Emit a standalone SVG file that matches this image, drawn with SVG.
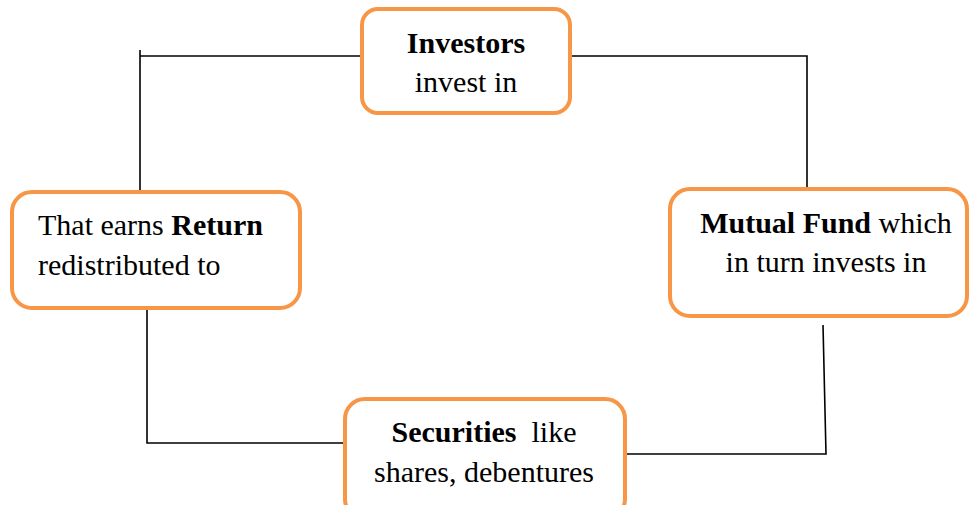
<svg xmlns="http://www.w3.org/2000/svg" width="970" height="505" viewBox="0 0 970 505">
  <style>
    .box { fill: #ffffff; stroke: #F79646; stroke-width: 4; }
    .link { fill: none; stroke: #000000; stroke-width: 1.6; }
    text { font-family: "Liberation Serif", "Times New Roman", serif; font-size: 30px; fill: #000000; white-space: pre; }
    .b { font-weight: bold; }
  </style>
  <rect width="970" height="505" fill="#ffffff"/>

  <g id="connectors">
    <polyline class="link" points="362,56 140,56"/>
    <line class="link" x1="140" y1="50" x2="140" y2="190"/>
    <polyline class="link" points="570,56 807,56 807,189"/>
    <polyline class="link" points="147,308 147,443 345,443"/>
    <polyline class="link" points="823,325 826,454 625,454"/>
  </g>

  <g id="investors">
    <rect class="box" x="362" y="9" width="208" height="104" rx="16"/>
    <text x="466" y="53" text-anchor="middle" class="b">Investors</text>
    <text x="466" y="92" text-anchor="middle">invest in</text>
  </g>

  <g id="mutual-fund">
    <rect class="box" x="670" y="189" width="297" height="127" rx="20"/>
    <text x="826" y="233" text-anchor="middle"><tspan class="b">Mutual Fund</tspan> which</text>
    <text x="826" y="272" text-anchor="middle">in turn invests in</text>
  </g>

  <g id="securities">
    <rect class="box" x="345" y="399" width="280" height="120" rx="20"/>
    <text x="484" y="442" text-anchor="middle" xml:space="preserve"><tspan class="b">Securities</tspan>  like</text>
    <text x="484" y="482" text-anchor="middle">shares, debentures</text>
  </g>

  <g id="return">
    <rect class="box" x="12" y="192" width="288" height="116" rx="20"/>
    <text x="38" y="235">That earns <tspan class="b">Return</tspan></text>
    <text x="38" y="275">redistributed to</text>
  </g>
</svg>
